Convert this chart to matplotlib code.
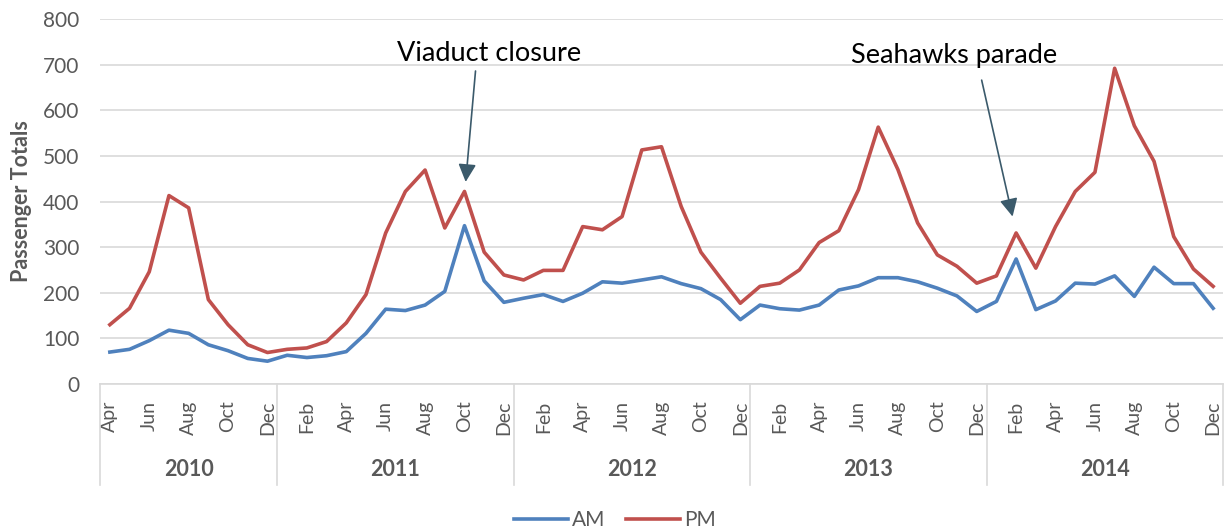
import matplotlib.pyplot as plt
import matplotlib.transforms as mtransforms

plt.rcParams['font.family'] = ['Lato', 'DejaVu Sans']

# monthly totals, Apr 2010 .. Dec 2014
years = ['2010', '2011', '2012', '2013', '2014']
year_months = [9, 12, 12, 12, 12]
month_names = ['Jan', 'Feb', 'Mar', 'Apr', 'May', 'Jun',
               'Jul', 'Aug', 'Sep', 'Oct', 'Nov', 'Dec']

am = [70, 76, 95, 118, 111, 86, 73, 56, 50, 63, 58, 62,
      71, 111, 164, 161, 173, 203, 347, 226, 179,
      188, 196, 181, 199, 224, 221, 228, 235, 220, 209, 185, 141,
      173, 165, 162, 173, 206, 215, 233, 233,
      224, 210, 193, 159, 181, 274, 163, 182, 221, 219, 237, 192, 256, 220, 220, 166]
pm = [130, 166, 246, 413, 386, 185, 130, 86, 69, 76, 79, 93,
      134, 196, 331, 422, 469, 342, 422, 289, 239,
      228, 249, 249, 345, 338, 367, 513, 520, 389, 289, 232, 177,
      214, 221, 250, 310, 336, 426, 563, 470,
      353, 283, 258, 221, 237, 331, 254, 345, 422, 464, 692, 566, 488, 323, 252, 214]

labels = []
for y, n in zip(years, year_months):
    labels += month_names[12 - n:]
x = list(range(len(am)))

grey = '#595959'
grid = '#d9d9d9'

fig = plt.figure(figsize=(12.25, 5.31), dpi=100)
ax = fig.add_axes([100 / 1225, 147 / 531, 1123 / 1225, 365 / 531])

ax.plot(x, am, color='#4f81bd', lw=2.6, label='AM', solid_joinstyle='round')
ax.plot(x, pm, color='#c0504d', lw=2.6, label='PM', solid_joinstyle='round')

ax.set_xlim(-0.5, len(am) - 0.5)
ax.set_ylim(0, 800)
ax.set_yticks(range(0, 801, 100))
ax.yaxis.grid(True, color=grid, lw=1.2)
ax.set_axisbelow(True)
for s in ['top', 'right', 'left']:
    ax.spines[s].set_visible(False)
ax.spines['bottom'].set_color(grid)
ax.spines['bottom'].set_linewidth(1.2)
ax.tick_params(axis='y', length=0, pad=15, labelsize=15, labelcolor=grey)

ax.set_xticks(x[::2])
ax.set_xticklabels(labels[::2], rotation=90, va='top', ha='center')
ax.tick_params(axis='x', length=0, pad=12, labelsize=14, labelcolor=grey)

ax.set_ylabel('Passenger Totals', fontsize=15.5, fontweight='bold', color=grey, labelpad=8)

# two-level category axis: year separators and year names
trans = mtransforms.blended_transform_factory(ax.transData, ax.transAxes)
start = -0.5
for y, n in zip(years, year_months):
    ax.plot([start, start], [0, -0.277], transform=trans, color=grid, lw=1.2, clip_on=False)
    ax.text(start + n / 2, -0.233, y, transform=trans, ha='center', va='center',
            fontsize=15.5, fontweight='bold', color=grey)
    start += n
ax.plot([start, start], [0, -0.277], transform=trans, color=grid, lw=1.2, clip_on=False)

# annotations
arrow = dict(arrowstyle='-|>', color='#3b5a6b', lw=1.2, mutation_scale=27, shrinkA=0, shrinkB=0)
ax.annotate('', xy=(18.06, 443), xytext=(18.56, 686), arrowprops=arrow)
ax.text(19.24, 725, 'Viaduct closure', fontsize=19.5, ha='center', va='center', color='black')
ax.annotate('', xy=(45.82, 367), xytext=(44.25, 666), arrowprops=arrow)
ax.text(42.85, 721, 'Seahawks parade', fontsize=19.5, ha='center', va='center', color='black')

fig.legend(loc='center', bbox_to_anchor=(0.502, 0.02), ncol=2, frameon=False,
           fontsize=15, labelcolor=grey, handlelength=2.6, columnspacing=1.0, handletextpad=0.2,
           borderpad=0)

fig.savefig('out.png', dpi=100)
